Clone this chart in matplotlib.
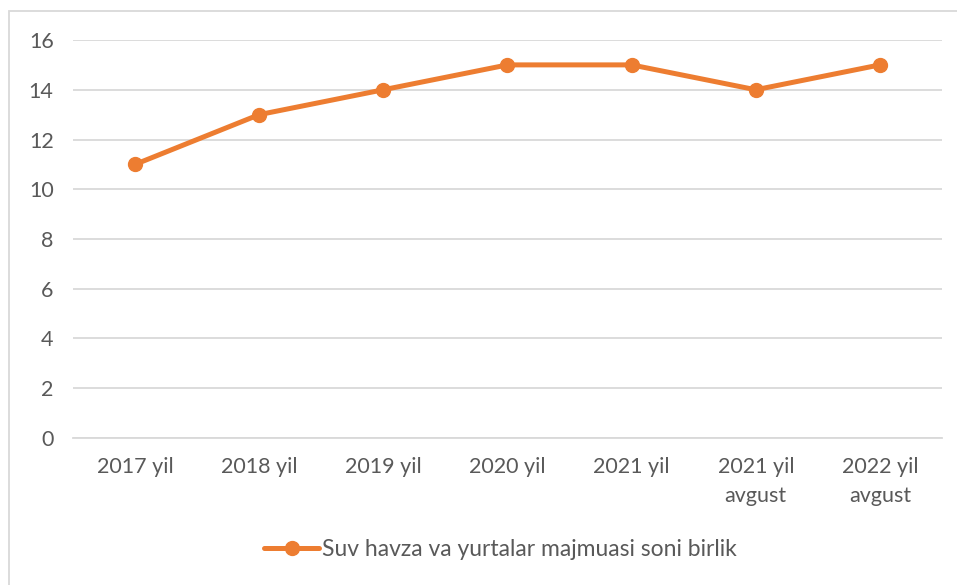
import matplotlib.pyplot as plt
from matplotlib.patches import Rectangle

# Values
categories = ['2017 yil', '2018 yil', '2019 yil', '2020 yil', '2021 yil',
              '2021 yil\navgust', '2022 yil\navgust']
values = [11, 13, 14, 15, 15, 14, 15]
series_name = 'Suv havza va yurtalar majmuasi soni birlik'
y_ticks = [0, 2, 4, 6, 8, 10, 12, 14, 16]

plt.rcParams['font.family'] = ['Lato', 'DejaVu Sans']
text_color = '#595959'
orange = '#ED7D31'

fig = plt.figure(figsize=(9.57, 5.85), dpi=100)
ax = fig.add_axes([0.0763, 0.2513, 0.908, 0.6803])

x = range(len(categories))
ax.plot(x, values, color=orange, linewidth=3.6, marker='o', markersize=10,
        solid_capstyle='round', label=series_name, zorder=3)

ax.set_xlim(-0.5, len(categories) - 0.5)
ax.set_ylim(0, 16)
ax.set_yticks(y_ticks)
ax.set_xticks(list(x))
ax.set_xticklabels(categories, linespacing=1.55)
ax.grid(axis='y', color='#D9D9D9', linewidth=1.3)
ax.set_axisbelow(True)
for side in ['top', 'right', 'left']:
    ax.spines[side].set_visible(False)
ax.spines['bottom'].set_color('#D9D9D9')
ax.spines['bottom'].set_linewidth(1.3)
ax.tick_params(axis='both', length=0, labelsize=15.5, colors=text_color)
ax.tick_params(axis='y', pad=14)
ax.tick_params(axis='x', pad=14)

leg = fig.legend(loc='center', bbox_to_anchor=(0.523, 0.06), frameon=False,
                 fontsize=16.5, handlelength=2.4, handletextpad=0.1)
for t in leg.get_texts():
    t.set_color(text_color)

# light chart-area border
fig.patches.append(Rectangle((9 / 957, -0.1), 1.2, 1.1 - 11 / 585,
                             transform=fig.transFigure, fill=False,
                             edgecolor='#D9D9D9', linewidth=1.3))

fig.savefig('out.png', dpi=100)
